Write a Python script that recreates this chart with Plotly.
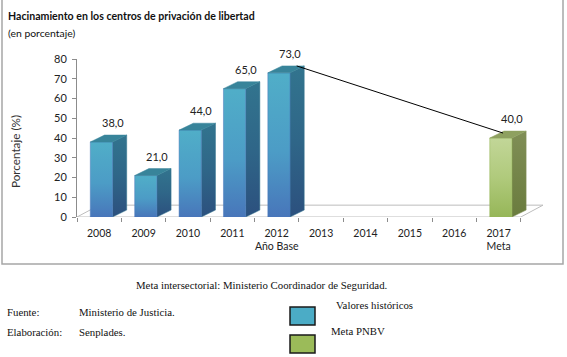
import plotly.graph_objects as go

# ---- data ----
years = ["2008", "2009", "2010", "2011", "2012", "2013", "2014", "2015", "2016", "2017"]
tick_text = ["2008", "2009", "2010", "2011", "2012<br>Año Base", "2013", "2014", "2015", "2016", "2017<br>Meta"]
hist_values = [38.0, 21.0, 44.0, 65.0, 73.0, None, None, None, None, None]
goal_values = [None, None, None, None, None, None, None, None, None, 40.0]
y_ticks = [0, 10, 20, 30, 40, 50, 60, 70, 80]

# ---- geometry / style ----
W, H = 567, 357
ML, MR, MT, MB = 77, 24, 59, 140
PW, PH = W - ML - MR, H - MT - MB
XR = [-0.5, 10.0]
YR = [0, 80]

def px(xp):  # pixel x -> paper
    return (xp - ML) / PW

def py(yp):  # pixel y -> paper
    return (H - MB - yp) / PH

BX0, BX1 = -0.2, 0.3     # front face extent relative to category index
DX, DY = 0.32, 3.5        # depth offset (x units, value units)
FLOOR_DX, FLOOR_DY = 0.5, 6.0

blue = dict(front=[[0, "rgb(72,118,186)"], [0.45, "rgb(76,156,198)"], [1, "rgb(80,174,200)"]],
            side=[[0, "rgb(44,80,126)"], [0.5, "rgb(47,102,136)"], [1, "rgb(50,116,142)"]],
            top="rgb(56,132,154)")
green = dict(front=[[0, "rgb(150,182,88)"], [0.5, "rgb(176,202,124)"], [1, "rgb(194,214,152)"]],
             side=[[0, "rgb(106,124,62)"], [1, "rgb(128,142,86)"]],
             top="rgb(142,160,96)")

fig = go.Figure()

# floor
fx = [XR[0], 9.5, 9.5 + FLOOR_DX, XR[0] + FLOOR_DX, XR[0]]
fy = [0, 0, FLOOR_DY, FLOOR_DY, 0]
fig.add_trace(go.Scatter(x=fx, y=fy, mode="lines", line=dict(color="#bdbdbd", width=1),
                         fill="toself", fillcolor="white", hoverinfo="skip", showlegend=False))


def add_bar(i, v, pal):
    x0, x1 = i + BX0, i + BX1
    # side face
    fig.add_trace(go.Scatter(
        x=[x1, x1 + DX, x1 + DX, x1, x1], y=[0, DY, v + DY, v, 0],
        mode="lines", line=dict(width=0.5, color=pal["side"][-1][1]), fill="toself",
        fillgradient=dict(type="vertical", colorscale=pal["side"], start=0, stop=v + DY),
        hoverinfo="skip", showlegend=False))
    # front face
    fig.add_trace(go.Scatter(
        x=[x0, x1, x1, x0, x0], y=[0, 0, v, v, 0],
        mode="lines", line=dict(width=0.5, color=pal["front"][0][1]), fill="toself",
        fillgradient=dict(type="vertical", colorscale=pal["front"], start=0, stop=v),
        hoverinfo="skip", showlegend=False))
    # top face
    fig.add_trace(go.Scatter(
        x=[x0, x1, x1 + DX, x0 + DX, x0], y=[v, v, v + DY, v + DY, v],
        mode="lines", line=dict(width=0.5, color=pal["top"]), fill="toself",
        fillcolor=pal["top"], hoverinfo="skip", showlegend=False))


for i, v in enumerate(hist_values):
    if v is not None:
        add_bar(i, v, blue)
for i, v in enumerate(goal_values):
    if v is not None:
        add_bar(i, v, green)

# connector line from base year to goal
base_i = 4
goal_i = 9
fig.add_trace(go.Scatter(
    x=[base_i + 0.45, goal_i + 0.1],
    y=[hist_values[base_i] + DY, goal_values[goal_i] + 2.5],
    mode="lines", line=dict(color="black", width=1), hoverinfo="skip", showlegend=False))

annotations = []
# value labels
for i in range(len(years)):
    v = hist_values[i] if hist_values[i] is not None else goal_values[i]
    if v is None:
        continue
    annotations.append(dict(x=i + 0.3, y=v + DY, xref="x", yref="y",
                            text=f"{v:.1f}".replace(".", ","), showarrow=False,
                            yanchor="bottom", yshift=4,
                            font=dict(family="Lato", size=11, color="#222")))

# titles
annotations += [
    dict(x=px(6), y=py(16), xref="paper", yref="paper", xanchor="left", yanchor="middle",
         text="<b>Hacinamiento en los centros de privación de libertad</b>", showarrow=False,
         font=dict(family="Lato", size=10.6, color="#111")),
    dict(x=px(6), y=py(33), xref="paper", yref="paper", xanchor="left", yanchor="middle",
         text="(en porcentaje)", showarrow=False,
         font=dict(family="Lato", size=10.4, color="#111")),
    dict(x=px(15), y=py(152), xref="paper", yref="paper", xanchor="center", yanchor="middle",
         text="Porcentaje (%)", textangle=-90, showarrow=False,
         font=dict(family="Lato", size=11.7, color="#333")),
]

serif = dict(family="Liberation Serif", size=10.8, color="#111")
annotations += [
    dict(x=px(261), y=py(285), xref="paper", yref="paper", xanchor="center", yanchor="middle",
         text="Meta intersectorial: Ministerio Coordinador de Seguridad.", showarrow=False, font=serif),
    dict(x=px(5), y=py(312), xref="paper", yref="paper", xanchor="left", yanchor="middle",
         text="Fuente:", showarrow=False, font=serif),
    dict(x=px(77), y=py(312), xref="paper", yref="paper", xanchor="left", yanchor="middle",
         text="Ministerio de Justicia.", showarrow=False, font=serif),
    dict(x=px(5), y=py(332), xref="paper", yref="paper", xanchor="left", yanchor="middle",
         text="Elaboración:", showarrow=False, font=serif),
    dict(x=px(77), y=py(332), xref="paper", yref="paper", xanchor="left", yanchor="middle",
         text="Senplades.", showarrow=False, font=serif),
    dict(x=px(334), y=py(305), xref="paper", yref="paper", xanchor="left", yanchor="middle",
         text="Valores históricos", showarrow=False, font=serif),
    dict(x=px(329), y=py(331), xref="paper", yref="paper", xanchor="left", yanchor="middle",
         text="Meta PNBV", showarrow=False, font=serif),
]

shapes = [
    # outer frame
    dict(type="rect", xref="paper", yref="paper", x0=px(2), x1=px(563), y0=py(264), y1=py(-2),
         line=dict(color="#a6a6a6", width=1.5), fillcolor="rgba(0,0,0,0)", layer="below"),
    # legend boxes
    dict(type="rect", xref="paper", yref="paper", x0=px(290), x1=px(315), y0=py(325), y1=py(307),
         line=dict(color="#1a1a1a", width=1.5), fillcolor="#4bacc6"),
    dict(type="rect", xref="paper", yref="paper", x0=px(290), x1=px(315), y0=py(353), y1=py(335),
         line=dict(color="#1a1a1a", width=1.5), fillcolor="#9bbb59"),
]

fig.update_layout(
    width=W, height=H,
    margin=dict(l=ML, r=MR, t=MT, b=MB, pad=0),
    paper_bgcolor="white", plot_bgcolor="white",
    showlegend=False,
    annotations=annotations, shapes=shapes,
    xaxis=dict(range=XR, tickmode="array", tickvals=list(range(len(years))), ticktext=tick_text,
               ticks="", showline=False, showgrid=False, zeroline=False,
               tickfont=dict(family="Lato", size=10.5, color="#222"), ticklabelstandoff=8,
               minor=dict(tickmode="array", tickvals=[k - 0.5 for k in range(len(years) + 1)],
                          ticks="outside", ticklen=4, tickcolor="#8c8c8c", tickwidth=1),
               fixedrange=True),
    yaxis=dict(range=YR, tickmode="array", tickvals=y_ticks, ticks="outside", ticklen=4,
               tickcolor="#8c8c8c", showline=True, linecolor="#8c8c8c", linewidth=1,
               showgrid=False, zeroline=False, ticklabelstandoff=3,
               tickfont=dict(family="Lato", size=11, color="#222"), fixedrange=True),
)

fig.write_html("out.html", config={"displayModeBar": False},
               post_script="document.body.style.margin='0';document.body.style.overflow='hidden';")
